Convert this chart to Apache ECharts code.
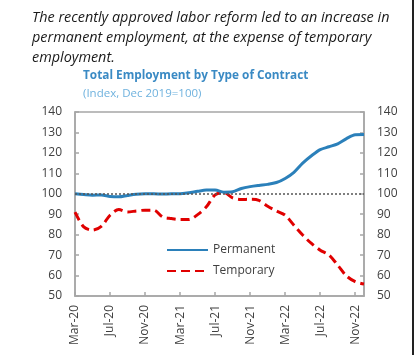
<!DOCTYPE html>
<html><head><meta charset="utf-8">
<script src="https://cdn.jsdelivr.net/npm/echarts@6/dist/echarts.min.js"></script>
<style>html,body{margin:0;padding:0;background:#fff}#c{width:418px;height:355px}</style>
</head><body><div id="c"></div>
<script>
var categories = ['Mar-20','Apr-20','May-20','Jun-20','Jul-20','Aug-20','Sep-20','Oct-20','Nov-20','Dec-20',
  'Jan-21','Feb-21','Mar-21','Apr-21','May-21','Jun-21','Jul-21','Aug-21','Sep-21','Oct-21','Nov-21','Dec-21',
  'Jan-22','Feb-22','Mar-22','Apr-22','May-22','Jun-22','Jul-22','Aug-22','Sep-22','Oct-22','Nov-22','Dec-22'];
var permanent = [100, 99.6, 99.3, 99.4, 98.7, 98.5, 99.2, 99.8, 100, 100,
  99.9, 100, 100, 100.5, 101.2, 101.8, 101.8, 100.8, 101, 102.6, 103.5, 104.1,
  104.6, 105.5, 107.5, 110.5, 115, 118.6, 121.6, 123, 124.4, 127, 128.9, 129];
var temporary = [91, 83.8, 82.2, 84.1, 89.5, 92.3, 91.1, 91.6, 92, 92,
  88.7, 87.9, 87.4, 87.4, 89.8, 93.6, 99.5, 100.6, 98, 97.2, 97.3, 96.8,
  93.9, 91.6, 89.5, 84.6, 79.8, 75.7, 72.4, 70, 65.1, 59.8, 57, 55.9];
var seriesNames = ['Permanent', 'Temporary'];
var yMin = 50, yMax = 140, yStep = 10, baseline = 100;

var chart = echarts.init(document.getElementById('c'), null, {renderer: 'canvas'});
var axisLabelStyle = {color: '#404040', fontSize: 12, fontFamily: 'Open Sans'};
var axisLineStyle = {lineStyle: {color: '#A6A6A6', width: 1.5}};
chart.setOption({
  animation: false,
  textStyle: {fontFamily: 'Open Sans'},
  graphic: [
    {type: 'text', left: 32, top: 8, style: {
      text: 'The recently approved labor reform led to an increase in\npermanent employment, at the expense of temporary\nemployment.',
      fontFamily: 'Open Sans', fontStyle: 'italic', fontSize: 14.4, lineHeight: 20, fill: '#1a1a1a'}},
    {type: 'text', left: 83, top: 70, style: {
      text: 'Total Employment by Type of Contract', fontFamily: 'Open Sans', fontWeight: 'bold', fontSize: 11.8, fill: '#3A8AC4'}},
    {type: 'text', left: 83, top: 88, style: {
      text: '(Index, Dec 2019=100)', fontFamily: 'Open Sans', fontSize: 11.5, fill: '#6FB2DE'}},
    {type: 'line', shape: {x1: 413, y1: 0, x2: 413, y2: 355}, style: {stroke: '#222', lineWidth: 2}}
  ],
  grid: {left: 75, right: 54, top: 112, bottom: 59, show: true, borderColor: '#A6A6A6', borderWidth: 1.5},
  legend: {
    orient: 'vertical', left: 161, top: 239, itemWidth: 41, itemHeight: 10, itemGap: 9,
    textStyle: {color: '#404040', fontSize: 12, fontFamily: 'Open Sans'},
    itemStyle: {color: 'rgba(0,0,0,0)', borderWidth: 0},
    data: seriesNames
  },
  xAxis: {
    type: 'category', data: categories, boundaryGap: false,
    axisLine: axisLineStyle,
    axisTick: {inside: true, interval: 3, length: 4, lineStyle: {color: '#A6A6A6', width: 1.5}},
    axisLabel: Object.assign({interval: 3, rotate: 90, margin: 9}, axisLabelStyle),
    splitLine: {show: false}
  },
  yAxis: [
    {type: 'value', min: yMin, max: yMax, interval: yStep, position: 'left',
     axisLine: Object.assign({show: true}, axisLineStyle),
     axisTick: {show: true, inside: true, length: 4, lineStyle: {color: '#A6A6A6', width: 1.5}},
     axisLabel: Object.assign({margin: 13}, axisLabelStyle), splitLine: {show: false}},
    {type: 'value', min: yMin, max: yMax, interval: yStep, position: 'right',
     axisLine: Object.assign({show: true}, axisLineStyle),
     axisTick: {show: true, inside: true, length: 4, lineStyle: {color: '#A6A6A6', width: 1.5}},
     axisLabel: Object.assign({margin: 13}, axisLabelStyle), splitLine: {show: false}}
  ],
  series: [
    {name: seriesNames[0], type: 'line', data: permanent, smooth: 0.3, showSymbol: false, symbol: 'none',
     lineStyle: {color: '#2B80BA', width: 3}, itemStyle: {color: '#2B80BA'}, z: 3,
     markLine: {silent: true, symbol: 'none', label: {show: false},
       lineStyle: {type: [2, 2], color: '#555', width: 1.5},
       data: [{yAxis: baseline}]}},
    {name: seriesNames[1], type: 'line', data: temporary, smooth: 0.3, showSymbol: false, symbol: 'none',
     lineStyle: {color: '#E00000', width: 3, type: [9, 5]}, itemStyle: {color: '#E00000'}, z: 2}
  ]
});
</script></body></html>
